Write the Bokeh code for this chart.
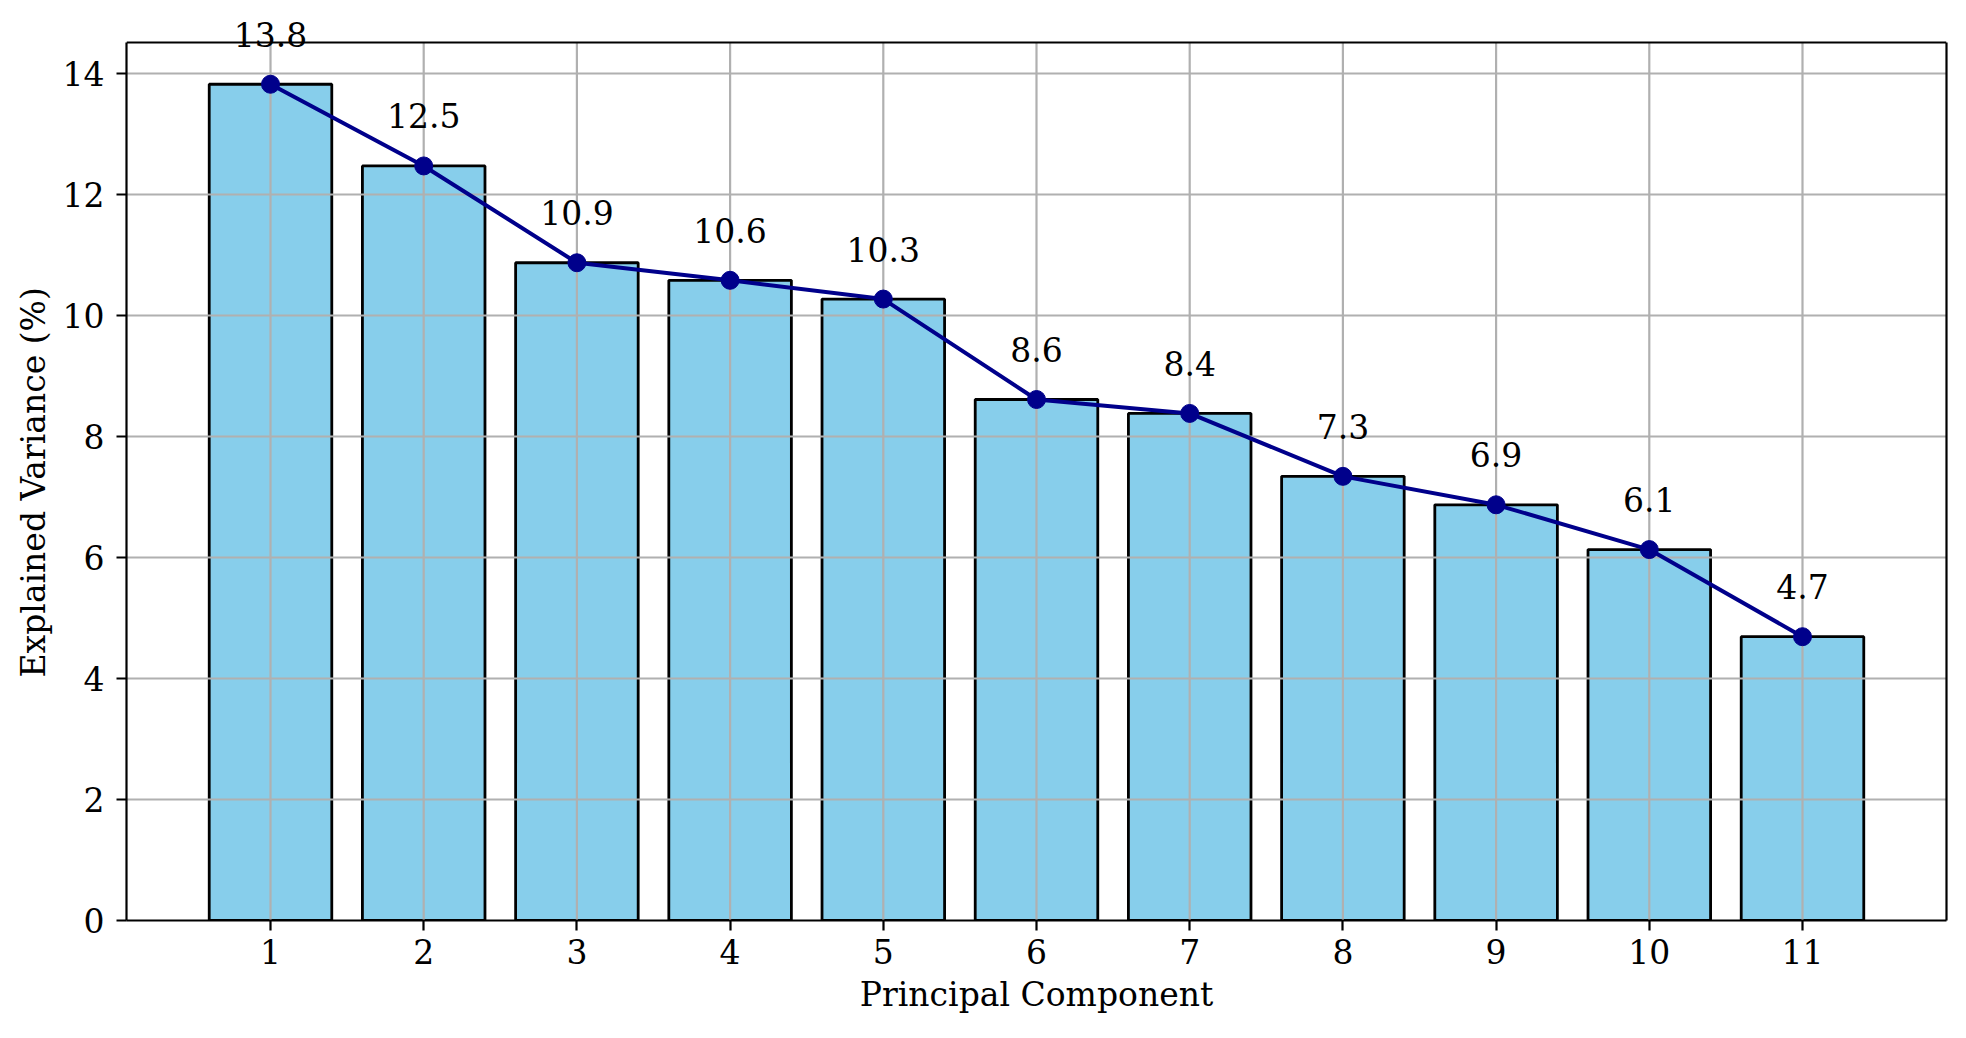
from bokeh.plotting import figure
from bokeh.models import ColumnDataSource, FixedTicker, Range1d, Label, LinearAxis, Span, Title
from bokeh.embed import file_html
from bokeh.resources import INLINE

components = [1, 2, 3, 4, 5, 6, 7, 8, 9, 10, 11]
variance = [13.82, 12.47, 10.87, 10.58, 10.27, 8.61, 8.38, 7.34, 6.87, 6.13, 4.69]
labels = [f"{v:.1f}" for v in variance]
y_ticks = [0, 2, 4, 6, 8, 10, 12, 14]

FONT = "DejaVu Serif"
FS = "33px"

XMIN, XMAX = 0.06, 11.94
YMAX = 14.51
FRAME_H = 920          # pixel height of the drawing area
AXES_TOP_PX = 42       # where the visible axes box starts
YTOP = YMAX * FRAME_H / (FRAME_H - AXES_TOP_PX)

src = ColumnDataSource(data=dict(x=components, y=variance, label=labels,
                                 y0=[0] * len(components), y1=[YMAX] * len(components)))

p = figure(width=1950, height=1022, output_backend="svg", toolbar_location=None,
           x_range=Range1d(XMIN, XMAX), y_range=Range1d(0, YTOP),
           min_border_left=126, min_border_right=4, min_border_top=0, min_border_bottom=102)
p.outline_line_color = None

# vertical grid lines limited to the axes box
vg = p.segment(x0="x", y0="y0", x1="x", y1="y1", source=src,
               line_color="#b0b0b0", line_width=2.2)
vg.level = "underlay"
p.xgrid.visible = False

bars = p.vbar(x="x", top="y", width=0.8, bottom=0, source=src,
              fill_color="#87CEEB", line_color="black", line_width=2.8)
bars.level = "image"

p.line(x="x", y="y", source=src, line_color="#00008B", line_width=4)
p.scatter(x="x", y="y", source=src, size=18, fill_color="#00008B", line_color="#00008B")

for xc, yv, txt in zip(components, variance, labels):
    p.add_layout(Label(x=xc, y=yv, text=txt, text_align="center",
                       text_baseline="alphabetic", y_offset=50, text_font=FONT,
                       text_font_size=FS, text_color="black"))

# top edge of the axes box
p.add_layout(Span(location=YMAX, dimension="width", line_color="black", line_width=2.2))

# right edge of the axes box
rax = LinearAxis(ticker=FixedTicker(ticks=[]), bounds=(0, YMAX))
p.add_layout(rax, "right")

for ax in (p.xaxis[0], p.yaxis[0], rax):
    ax.axis_line_color = "black"
    ax.axis_line_width = 2.2
    ax.major_tick_line_color = "black"
    ax.major_tick_line_width = 2.2
    ax.major_tick_out = 10
    ax.major_tick_in = 0
    ax.minor_tick_line_color = None
    ax.major_label_text_font = FONT
    ax.major_label_text_font_size = FS
    ax.major_label_text_color = "black"
    ax.axis_label_text_font = FONT
    ax.axis_label_text_font_size = FS
    ax.axis_label_text_font_style = "normal"
    ax.axis_label_text_color = "black"

p.yaxis[0].bounds = (0, YMAX)
p.xaxis.ticker = FixedTicker(ticks=components)
p.yaxis[0].ticker = FixedTicker(ticks=y_ticks)
p.xaxis.axis_label = "Principal Component"
p.xaxis.major_label_standoff = 8
p.yaxis[0].major_label_standoff = 12
p.xaxis.axis_label_standoff = 8

# y axis title, centred on the visible axes box
ytitle = Title(text="Explained Variance (%)", align="left", offset=243, standoff=14,
               text_font=FONT, text_font_size=FS, text_font_style="normal",
               text_color="black")
p.add_layout(ytitle, "left")

p.ygrid.grid_line_color = "#b0b0b0"
p.ygrid.grid_line_width = 2.2
p.ygrid.ticker = FixedTicker(ticks=y_ticks)

open("out.html", "w").write(file_html(p, INLINE))
